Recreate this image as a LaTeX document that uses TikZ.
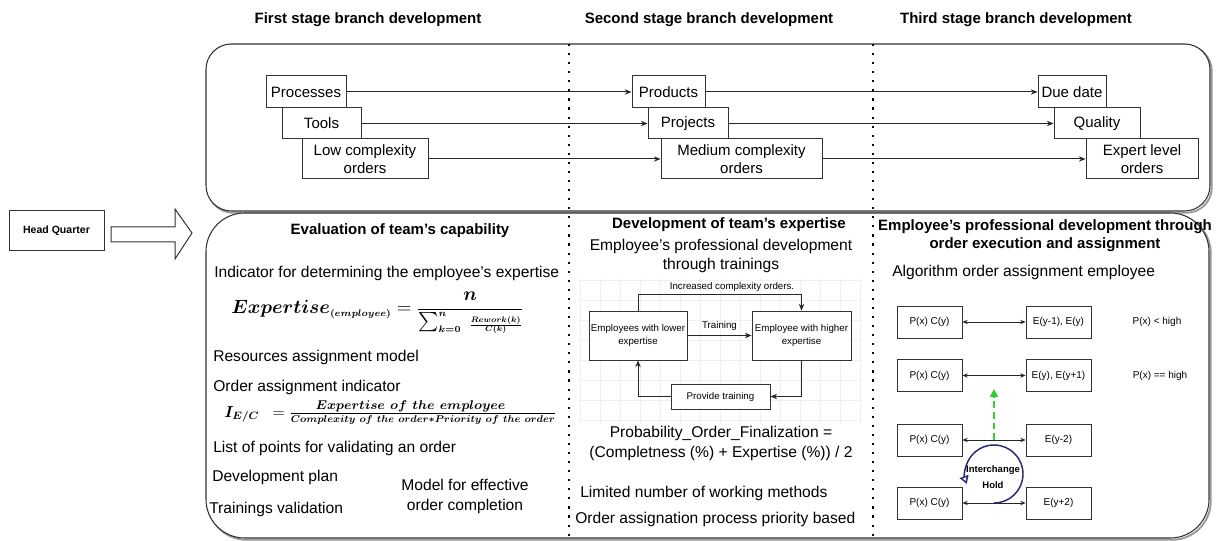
\documentclass[tikz,border=0pt]{standalone}
\usepackage{amsmath,bm}
\usepackage[no-math]{fontspec}
\setmainfont{Liberation Sans}
\usetikzlibrary{arrows.meta}

\definecolor{swapgreen}{RGB}{51,204,51}
\definecolor{swapnavy}{RGB}{40,40,120}

\tikzset{
  stagebox/.style={draw=black!80, line width=0.8pt, rounded corners=19pt},
  boxshade/.style={draw=black!40, line width=1.4pt, shift={(1.8,1.8)}},
  itembox/.style={draw=black!80, line width=0.75pt, inner sep=0pt, align=center, font=\fontsize{11.25}{13.5}\selectfont},
  smallbox/.style={draw=black!80, line width=0.6pt, inner sep=0pt, align=center, font=\fontsize{7.3}{9.75}\selectfont},
  headtxt/.style={inner sep=0pt, align=center, font=\bfseries\fontsize{11.25}{13.5}\selectfont},
  bodytxt/.style={inner sep=0pt, align=center, font=\fontsize{11.7}{14.5}\selectfont},
  smalltxt/.style={inner sep=0pt, font=\fontsize{7.3}{9}\selectfont},
  flow/.style={draw=black!85, line width=0.75pt, -{Stealth[length=5pt,width=4pt]}},
  twoway/.style={draw=black!85, line width=0.6pt, {Stealth[length=4pt,width=3.2pt]}-{Stealth[length=4pt,width=3.2pt]}},
  stageline/.style={line width=1.6pt, dash pattern=on 1.6pt off 5.2pt},
  gridln/.style={draw=black!6, line width=0.5pt},
}

\begin{document}
\begin{tikzpicture}[x=0.75pt,y=0.75pt,yscale=-1,xscale=1]
\path[use as bounding box] (0,0) rectangle (1217,541);

%Shape: Rounded Rect [id:top]
\draw[stagebox, boxshade] (206,44) rectangle (1210,211);
\draw[stagebox, fill=white] (206,44) rectangle (1210,211);
%Shape: Rounded Rect [id:bottom]
\draw[stagebox, boxshade, rounded corners=29pt] (206,213) rectangle (1209,538);
\draw[stagebox, fill=white, rounded corners=29pt] (206,213) rectangle (1209,538);
%Straight Lines [id:stage borders]
\draw[stageline] (569,44) -- (569,541);
\draw[stageline] (873,44) -- (873,541);

% Text Node
\draw (368,20) node (tfirst) [headtxt] {First stage branch development};
% Text Node
\draw (709,20) node (tsecond) [headtxt] {Second stage branch development};
% Text Node
\draw (1016,20) node (tthird) [headtxt] {Third stage branch development};

%Shape: Rectangle [id:head quarter]
\draw (56.5,231) node (hq) [draw=black!80, line width=0.75pt, minimum width=71.25pt, minimum height=30pt, font=\bfseries\fontsize{7.9}{9}\selectfont] {Head Quarter};
%Shape: Right Arrow
\draw[black!80, line width=0.75pt] (111,227) -- (175,227) -- (175,209) -- (192,233) -- (175,259) -- (175,242) -- (111,242) -- cycle;

% first stage
\draw (306,92) node (proc) [itembox, minimum width=60pt, minimum height=24pt] {Processes};
\draw (321.5,123.5) node (tools) [itembox, minimum width=59.25pt, minimum height=23.25pt] {Tools};
\draw (365,159) node (lowc) [itembox, minimum width=94.5pt, minimum height=30pt] {Low complexity\\orders};
% second stage
\draw (668.5,92) node (prod) [itembox, minimum width=54.75pt, minimum height=24pt] {Products};
\draw (688,123.5) node (proj) [itembox, minimum width=60pt, minimum height=23.25pt] {Projects};
\draw (741.5,159) node (medc) [itembox, minimum width=120.75pt, minimum height=30pt] {Medium complexity\\orders};
% third stage
\draw (1072,92) node (due) [itembox, minimum width=51pt, minimum height=24pt] {Due date};
\draw (1097,123.5) node (qual) [itembox, minimum width=64.5pt, minimum height=23.25pt] {Quality};
\draw (1142,159) node (expert) [itembox, minimum width=84pt, minimum height=30pt] {Expert level\\orders};

%Straight Lines
\draw[flow] (proc) -- (prod);
\draw[flow] (tools) -- (proj);
\draw[flow] (lowc) -- (medc);
\draw[flow] (prod) -- (due);
\draw[flow] (proj) -- (qual);
\draw[flow] (medc) -- (expert);

% Evaluation of team's capability
\draw (400,231) node (teval) [headtxt] {Evaluation of team's capability};
\draw (214,273) node (indic) [bodytxt, anchor=west] {Indicator for determining the employee's expertise};
\draw (231,313) node (fexp) [anchor=west, inner sep=0pt, font=\fontsize{13.5}{16}\selectfont] {$\displaystyle \bm{Expertise}_{\scriptscriptstyle\bm{(employee)}} = \frac{\bm{n}}{\sum_{\scriptscriptstyle\bm{k=0}}^{\scriptscriptstyle\bm{n}}\ \scalebox{0.85}{$\genfrac{}{}{}{3}{\bm{Rework(k)}}{\bm{C(k)}}$}}$};
\draw (213,357) node (resmod) [bodytxt, anchor=west] {Resources assignment model};
\draw (213,387) node (ordind) [bodytxt, anchor=west] {Order assignment indicator};
\draw (224,413) node (fie) [anchor=west, inner sep=0pt, font=\fontsize{12}{13}\selectfont] {$\bm{I_{E/C}}\ \ = \frac{\scalebox{1.19}{$\scriptstyle\bm{Expertise\ of\ the\ employee}$}}{\scalebox{0.93}{$\scriptstyle\bm{Complexity\ of\ the\ order{\ast}Priority\ of\ the\ order}$}}$};
\draw (213,448) node (listpts) [bodytxt, anchor=west] {List of points for validating an order};
\draw (212,477) node (devplan) [bodytxt, anchor=west] {Development plan};
\draw (209,509) node (trval) [bodytxt, anchor=west] {Trainings validation};
\draw (465,496) node (model) [bodytxt, font=\fontsize{11.7}{15}\selectfont] {Model for effective\\order completion};

% Development of team's expertise
\draw (729,225) node (tdev) [headtxt] {Development of team's expertise};
\draw (721,256) node (empprof) [bodytxt] {Employee's professional development\\through trainings};
\foreach \gx in {580,600,...,860} \draw[gridln] (\gx,278) -- (\gx,424);
\foreach \gy in {280,300,...,420} \draw[gridln] (578,\gy) -- (862,\gy);
\draw (638,335.5) node (lowexp) [smallbox, fill=white, minimum width=73.5pt, minimum height=36.75pt] {Employees with lower\\expertise};
\draw (801.5,335.5) node (highexp) [smallbox, fill=white, minimum width=74.25pt, minimum height=36.75pt] {Employee with higher\\expertise};
\draw (720.5,396.5) node (provide) [smallbox, fill=white, minimum width=74.25pt, minimum height=18.75pt] {Provide training};
\draw (732,287) node (incr) [smalltxt] {Increased complexity orders.};
\draw[flow] (lowexp) -- node[above=3pt, smalltxt] {Training} (highexp);
\draw[flow] (lowexp.north) -- ++(0,-16) -| (highexp.north);
\draw[flow] (highexp.south) |- (provide.east);
\draw[flow] (provide.west) -| (lowexp.south);
\draw (721,443) node (prob) [bodytxt, font=\fontsize{11.7}{15}\selectfont] {Probability\_Order\_Finalization =\\(Completness (\%) + Expertise (\%)) / 2};
\draw (580,493) node (limited) [bodytxt, anchor=west] {Limited number of working methods};
\draw (575,519) node (prio) [bodytxt, anchor=west] {Order assignation process priority based};

% Employee's professional development through order execution
\draw (1045,236) node (texec) [headtxt] {Employee's professional development through\\order execution and assignment};
\draw (892,272) node (algo) [bodytxt, anchor=west] {Algorithm order assignment employee};
\draw (929.5,322) node (pc1) [smallbox, minimum width=48.75pt, minimum height=24pt, font=\fontsize{7.5}{9}\selectfont] {P(x) C(y)};
\draw (1058.5,322) node (e1) [smallbox, minimum width=48.75pt, minimum height=24pt, font=\fontsize{7.5}{9}\selectfont] {E(y-1), E(y)};
\draw (929.5,375.5) node (pc2) [smallbox, minimum width=48.75pt, minimum height=24pt, font=\fontsize{7.5}{9}\selectfont] {P(x) C(y)};
\draw (1058.5,375.5) node (e2) [smallbox, minimum width=48.75pt, minimum height=24pt, font=\fontsize{7.5}{9}\selectfont] {E(y), E(y+1)};
\draw (929.5,440) node (pc3) [smallbox, minimum width=48.75pt, minimum height=24pt, font=\fontsize{7.5}{9}\selectfont] {P(x) C(y)};
\draw (1058.5,440) node (e3) [smallbox, minimum width=48.75pt, minimum height=24pt, font=\fontsize{7.5}{9}\selectfont] {E(y-2)};
\draw (929.5,503) node (pc4) [smallbox, minimum width=48.75pt, minimum height=24pt, font=\fontsize{7.5}{9}\selectfont] {P(x) C(y)};
\draw (1058.5,503) node (e4) [smallbox, minimum width=48.75pt, minimum height=24pt, font=\fontsize{7.5}{9}\selectfont] {E(y+2)};
\draw (1157,322) node (plow) [smalltxt, font=\fontsize{7.5}{9}\selectfont] {P(x) < high};
\draw (1160,376) node (phigh) [smalltxt, font=\fontsize{7.5}{9}\selectfont] {P(x) == high};
\draw[twoway] (pc1) -- (e1);
\draw[twoway] (pc2) -- (e2);
\draw[twoway] (pc3) -- coordinate (mid3) (e3);
\draw[twoway] (pc4) -- coordinate (mid4) (e4);
\coordinate (gtip) at (994,389);
\draw[swapgreen, line width=1.4pt, dash pattern=on 5pt off 3pt, -{Triangle[length=6pt,width=6pt]}] (mid3) -- (gtip);
\draw[swapnavy, line width=1.1pt, -{Triangle[open,length=6pt,width=7pt]}] (mid4) arc[start angle=90, end angle=-200, radius=29];
\draw (993,477) node (xchg) [inner sep=0pt, align=center, font=\bfseries\fontsize{7.1}{12}\selectfont] {Interchange\\Hold};

\end{tikzpicture}
\end{document}
